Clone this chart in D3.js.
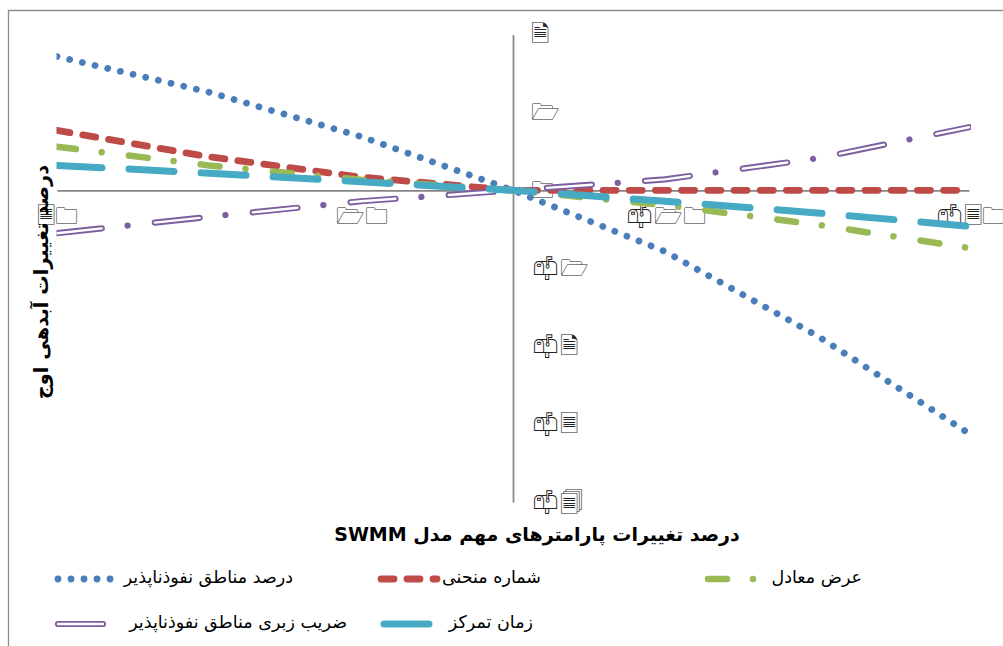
<!DOCTYPE html>
<html lang="fa"><head><meta charset="utf-8">
<script src="https://cdnjs.cloudflare.com/ajax/libs/d3/7.8.5/d3.min.js"></script>
<style>html,body{margin:0;padding:0;background:#fff}svg{display:block}text{font-family:"DejaVu Sans",sans-serif}.tick text{font-variant-emoji:text}</style>
</head><body><svg id="c" width="1003" height="646"></svg>
<script>
const xVals=[30,20,10,0,-10,-20,-30];
const blue=[1.717,1.26,0.69,0,-0.785,-1.865,-3.12];
const red=[0.77,0.43,0.17,0,0,0,0];
const green=[0.56,0.32,0.135,0,-0.19,-0.44,-0.74];
const teal=[0.32,0.22,0.11,0,-0.14,-0.29,-0.46];
const purple=[-0.55,-0.34,-0.14,0,0.14,0.41,0.81];
const xTicks=[30,10,-10,-30];
const yTicks=[2,1,0,-1,-2,-3,-4];
const names=["درصد مناطق نفوذناپذیر","شماره منحنی","عرض معادل","ضریب زبری مناطق نفوذناپذیر","زمان تمرکز"];
const xTitle="درصد تغییرات پارامترهای مهم مدل SWMM";
const yTitle="درصد تغییرات آبدهی اوج";
const wing={"0":"\u{1F5C0}","1":"\u{1F5C1}","2":"\u{1F5CE}","3":"\u{1F5CF}","4":"\u{1F5D0}","-":"\u{1F4EB}\uFE0E"};
const glyphs=d=>String(d).split("").map(c=>wing[c]).join("");
const svg=d3.select("#c");
const x=d3.scaleLinear().domain([30,-30]).range([57,969]);
const y=d3.scaleLinear().domain([2,-4]).range([34.5,502]);
svg.append("path").attr("d","M8.5,646V10.5H1003").attr("fill","none").attr("stroke","#8c8c8c").attr("stroke-width",1.3);
svg.append("g").attr("transform",`translate(0,${y(0)})`).call(d3.axisBottom(x).tickValues(xTicks).tickSize(0).tickPadding(17).tickFormat(glyphs));
svg.append("g").attr("transform",`translate(${x(0)},0)`).call(d3.axisRight(y).tickValues(yTicks).tickSize(0).tickPadding(18).tickFormat(glyphs));
svg.selectAll(".domain").attr("stroke","#868686").attr("stroke-width",1.7);
svg.selectAll(".tick text").attr("font-size",23).attr("fill","#222");
svg.append("clipPath").attr("id","pc").append("rect").attr("x",56.5).attr("y",0).attr("width",914.5).attr("height",646);
const ln=d3.line().x((d,i)=>x(xVals[i])).y(d=>y(d));
const plot=svg.append("g").attr("clip-path","url(#pc)");
function draw(g,vals,col,w,dash){g.append("path").attr("d",ln(vals)).attr("fill","none").attr("stroke",col).attr("stroke-width",w).attr("stroke-linecap","round").attr("stroke-dasharray",dash)}
draw(plot,blue,"#4a7ebb",6.8,"0.01 13");
draw(plot,red,"#be4b48",6.8,"13.1 13.1");
draw(plot,green,"#98b954",6.5,"19 26 0.01 27.4");
draw(plot,purple,"#7d5fa0",6.2,"45 26 0.01 27.4");
draw(plot,purple,"#fff",2.4,"45 53.41");
draw(plot,teal,"#46aac4",7,"45 27.15");
const tt=(t,xx,yy,s,b,a)=>svg.append("text").text(t).attr("x",xx).attr("y",yy).attr("font-size",s).attr("font-weight",b?"bold":"normal").attr("text-anchor",a||"end").attr("fill","#000").attr("direction","rtl").attr("dominant-baseline","middle");
tt(xTitle,537,535,19,true,"middle");
svg.append("text").text(yTitle).attr("transform","translate(42,282) rotate(-90)").attr("font-size",19.4).attr("font-weight","bold").attr("text-anchor","middle").attr("dominant-baseline","middle").attr("fill","#000").attr("direction","rtl");
const leg=[{k:0,x0:58,x1:113,y:579,tx:293},{k:1,x0:381,x1:437,y:579,tx:541},{k:2,x0:708,x1:757,y:579,tx:862},{k:3,x0:58,x1:105,y:624,tx:347},{k:4,x0:384,x1:429,y:624,tx:533}];
leg.forEach(l=>{
 const g=svg.append("g");
 const L=d3.line()([[l.x0,l.y],[l.x1,l.y]]);
 const d=(c,w,da)=>g.append("path").attr("d",L).attr("fill","none").attr("stroke",c).attr("stroke-width",w).attr("stroke-linecap","round").attr("stroke-dasharray",da);
 if(l.k==0)d("#4a7ebb",6.8,"0.01 13");
 if(l.k==1)d("#be4b48",6.8,"13 13");
 if(l.k==2)d("#98b954",6.5,"19 26 0.01 27");
 if(l.k==3){d("#7d5fa0",6.2,"45 26");d("#fff",2.4,"45 26");}
 if(l.k==4)d("#46aac4",7,"45 27");
 tt(names[l.k],l.tx,l.y-1,17.5,false,"start");
});
</script></body></html>
